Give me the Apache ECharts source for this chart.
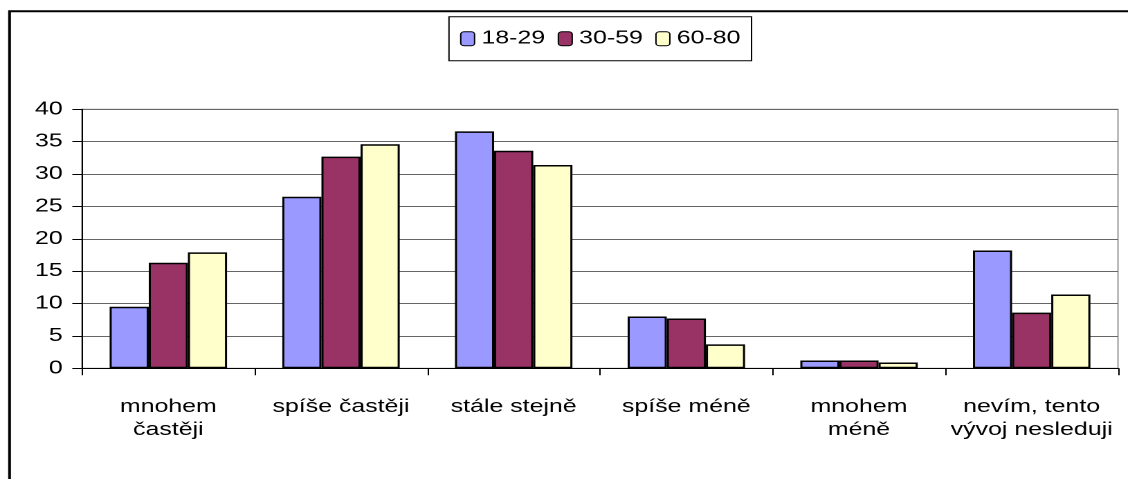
<!DOCTYPE html>
<html>
<head>
<meta charset="utf-8">
<script src="https://cdn.jsdelivr.net/npm/echarts@6/dist/echarts.min.js"></script>
<style>
html,body{margin:0;padding:0;background:#fff;overflow:hidden;width:1128px;height:479px;}
#c{position:absolute;left:0;top:0;width:815px;height:479px;transform:scaleX(1.384);transform-origin:0 0;}
</style>
</head>
<body>
<div id="c"></div>
<script>
const categories = ["mnohem\nčastěji", "spíše častěji", "stále stejně", "spíše méně", "mnohem\nméně", "nevím, tento\nvývoj nesleduji"];
const seriesNames = ["18-29", "30-59", "60-80"];
const values1829 = [9.5, 26.5, 36.6, 8.0, 1.2, 18.2];
const values3059 = [16.3, 32.7, 33.6, 7.7, 1.2, 8.6];
const values6080 = [17.9, 34.6, 31.4, 3.7, 0.9, 11.4];
const colors = ["#9999FF", "#993366", "#FFFFCC"];

const FONT = "'Liberation Sans', Arial, sans-serif";
const chart = echarts.init(document.getElementById('c'), null, {devicePixelRatio: 2});
const seriesData = [values1829, values3059, values6080];
chart.setOption({
  backgroundColor: '#fff',
  animation: false,
  textStyle: {fontFamily: FONT, color: '#000'},
  graphic: [{
    type: 'rect', z: 100, silent: true,
    shape: {x: 6.9, y: 11.2, width: 3000, height: 3000},
    style: {fill: 'none', stroke: '#000', lineWidth: 2}
  }],
  legend: {
    data: seriesNames,
    left: 324.4, top: 16.7,
    padding: [13, 8, 13, 8],
    itemGap: 9,
    itemWidth: 10, itemHeight: 14,
    borderColor: '#000', borderWidth: 1,
    textStyle: {fontSize: 18, fontFamily: FONT, color: '#000'},
    itemStyle: {borderColor: '#000', borderWidth: 1}
  },
  grid: {
    left: 59.25, right: 7.2, top: 109.3, bottom: 110.7,
    show: true, borderColor: '#999', borderWidth: 1, backgroundColor: 'transparent'
  },
  xAxis: {
    type: 'category',
    data: categories,
    axisLine: {lineStyle: {color: '#000', width: 1}},
    axisTick: {show: true, length: 7, lineStyle: {color: '#000'}},
    axisLabel: {interval: 0, fontSize: 18, lineHeight: 23, margin: 27, color: '#000', fontFamily: FONT}
  },
  yAxis: {
    type: 'value', min: 0, max: 40, interval: 5,
    axisLine: {show: true, lineStyle: {color: '#000', width: 1}},
    axisTick: {show: true, length: 7, lineStyle: {color: '#000'}},
    axisLabel: {fontSize: 18, margin: 14, color: '#000', fontFamily: FONT},
    splitLine: {show: true, lineStyle: {color: '#666', width: 1}}
  },
  series: seriesNames.map((n, i) => ({
    name: n, type: 'bar', data: seriesData[i],
    barGap: '0%', barCategoryGap: '32%',
    itemStyle: {color: colors[i], borderColor: '#000', borderWidth: 1.5}
  }))
});
</script>
</body>
</html>
